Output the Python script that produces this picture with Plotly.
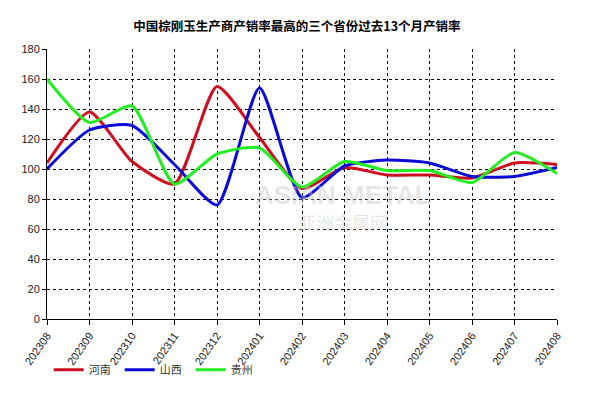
import plotly.graph_objects as go

months = ["202308", "202309", "202310", "202311", "202312", "202401", "202402",
          "202403", "202404", "202405", "202406", "202407", "202408"]
henan = [104, 138, 105, 90, 155, 121, 87, 101, 96, 96, 94, 104, 103]
shanxi = [100, 126, 129, 103, 76, 154, 81, 102, 106, 104, 95, 95, 101]
guizhou = [160, 131, 142, 90, 110, 114, 88, 105, 99, 99, 91, 111, 97]
y_ticks = list(range(0, 181, 20))

series = [("河南", henan, "#CC1020"), ("山西", shanxi, "#0A0AD8"), ("贵州", guizhou, "#22EE22")]

fig = go.Figure()
for name, vals, col in series:
    fig.add_trace(go.Scatter(x=months, y=vals, name=name, mode="lines",
                             line=dict(color=col, width=3, shape="spline", smoothing=0.6)))

fig.add_annotation(text="<b>ASIAN METAL</b>", x=0.58, y=0.46, xref="paper", yref="paper",
                   showarrow=False, font=dict(size=26, color="rgba(200,200,200,0.45)",
                                              family="Liberation Sans"))
fig.add_annotation(text="亚洲金属网", x=0.58, y=0.36, xref="paper", yref="paper",
                   showarrow=False, font=dict(size=18, color="rgba(200,200,200,0.45)",
                                              family="Noto Sans CJK SC"))

fig.update_layout(
    width=586, height=386,
    margin=dict(l=39, r=37, t=41, b=75, autoexpand=False),
    paper_bgcolor="white", plot_bgcolor="white",
    title=dict(text="<b>中国棕刚玉生产商产销率最高的三个省份过去13个月产销率</b>",
               x=0.493, xanchor="center", xref="container",
               y=0.951, yanchor="middle", yref="container",
               font=dict(size=12.5, color="#000", family="Noto Sans CJK SC")),
    font=dict(family="Liberation Sans", size=11, color="#222"),
    showlegend=True,
    legend=dict(orientation="h", x=0.0695, xanchor="left", xref="container",
                y=0.063, yanchor="middle", yref="container",
                bgcolor="rgba(0,0,0,0)",
                font=dict(size=11, family="Noto Sans CJK SC", color="#333"),
                entrywidth=26, entrywidthmode="pixels", tracegroupgap=0),
    xaxis=dict(type="category", range=[0, 12], showgrid=True, gridcolor="#000",
               griddash="dot", gridwidth=1, showline=True, linecolor="#000", linewidth=1,
               ticks="outside", ticklen=5, tickcolor="#000", tickangle=-55,
               tickfont=dict(size=11, color="#222"), zeroline=False, automargin=False),
    yaxis=dict(range=[0, 180], tickvals=y_ticks, showgrid=True, gridcolor="#000",
               griddash="dot", gridwidth=1, showline=True, linecolor="#000", linewidth=1,
               ticks="outside", ticklen=4, tickcolor="#000",
               tickfont=dict(size=11, color="#222"), zeroline=False, automargin=False),
)

fig.write_html("out.html")
